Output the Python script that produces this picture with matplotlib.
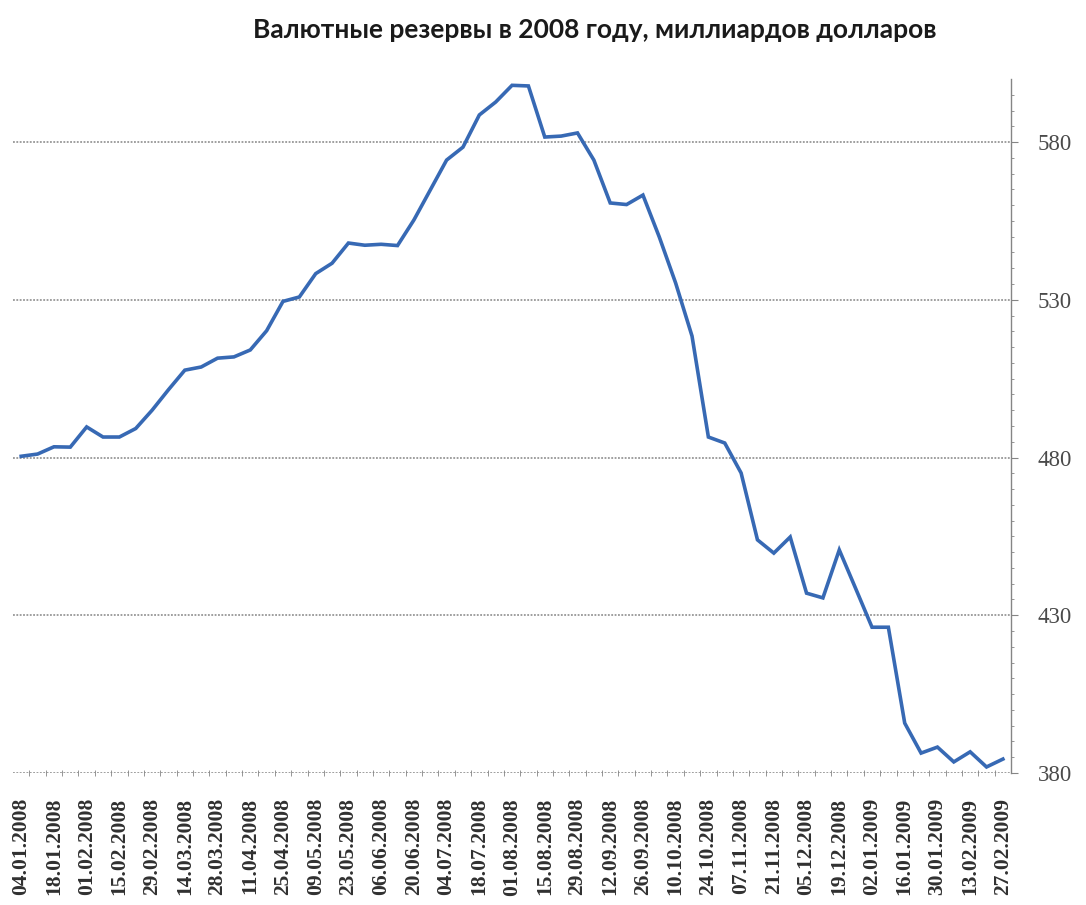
import pandas as pd
import matplotlib.pyplot as plt
from matplotlib.ticker import FixedLocator

# weekly reserve figures, billion USD
week_dates = pd.date_range("2008-01-04", periods=61, freq="7D")
reserves = [
    480.4, 481.1, 483.4, 483.3, 489.7, 486.5, 486.5, 489.2, 495.0, 501.5,
    507.7, 508.7, 511.5, 511.9, 514.1, 520.2, 529.5, 530.9, 538.3, 541.6,
    548.0, 547.3, 547.6, 547.2, 555.3, 564.8, 574.3, 578.4, 588.6, 592.7,
    598.0, 597.8, 581.6, 581.9, 582.9, 574.3, 560.7, 560.2, 563.2, 549.9,
    535.3, 518.5, 486.5, 484.6, 475.1, 453.9, 449.7, 454.8, 437.0, 435.5,
    450.7, 438.5, 426.2, 426.2, 395.8, 386.3, 388.2, 383.5, 386.7, 381.9,
    384.4,
]
date_labels = [d.strftime("%d.%m.%Y") for d in week_dates]
y_ticks = [380, 430, 480, 530, 580]

title = "Валютные резервы в 2008 году, миллиардов долларов"

fig = plt.figure(figsize=(10.86, 9.05), dpi=100)
ax = fig.add_axes([0.012, 0.1459, 0.919, 0.7668])

x = list(range(len(reserves)))
ax.plot(x, reserves, color="#3769b4", linewidth=2.6, solid_joinstyle="miter")

ax.set_xlim(-0.5, len(reserves) - 0.5)
ax.set_ylim(380, 600)

# dotted horizontal gridlines
for v in y_ticks:
    ax.axhline(v, color="#858585", linewidth=1.1, linestyle=(0, (1.2, 1.0)), zorder=0)

for side in ["left", "top", "bottom"]:
    ax.spines[side].set_visible(False)
ax.spines["right"].set_color("#858585")
ax.spines["right"].set_linestyle((0, (1.2, 1.0)))
ax.spines["right"].set_linewidth(1.0)

# y axis on the right
ax.yaxis.tick_right()
ax.set_yticks(y_ticks)
ax.yaxis.set_minor_locator(FixedLocator(list(range(385, 600, 5))))
ax.tick_params(axis="y", which="major", length=5, color="#858585", pad=14,
               labelsize=16.5, labelcolor="#4a4a4a")
ax.tick_params(axis="y", which="minor", length=2, color="#858585")
for lbl in ax.get_yticklabels():
    lbl.set_family("Liberation Serif")

# x axis: date every two weeks, tick marks between categories
ax.set_xticks(x[::2])
ax.set_xticklabels(date_labels[::2], rotation=90, family="Liberation Serif",
                   fontsize=15.5, fontweight="bold", color="#303030")
ax.xaxis.set_minor_locator(FixedLocator([i + 0.5 for i in x[:-1]]))
ax.tick_params(axis="x", which="major", length=0, pad=18)
ax.tick_params(axis="x", which="minor", length=4, direction="inout", color="#858585")

fig.text(0.548, 0.967, title, ha="center", va="center", family="Lato",
         fontweight="bold", fontsize=19, color="#1a1a1a")

fig.savefig("out.png", dpi=100, facecolor="white")
